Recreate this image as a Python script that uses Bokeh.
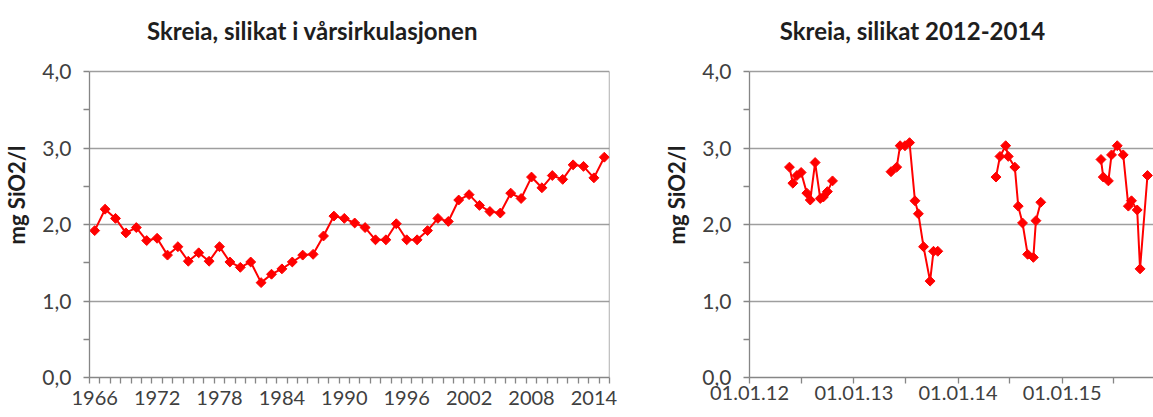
import math
import pandas as pd
from bokeh.plotting import figure
from bokeh.layouts import row
from bokeh.models import FixedTicker, DatetimeTickFormatter, Range1d, Label
from bokeh.embed import file_html
from bokeh.resources import INLINE

# ---------------- data ----------------
years = list(range(1966, 2016))
spring_silicate = [1.92, 2.20, 2.08, 1.89, 1.96, 1.79, 1.82, 1.60, 1.71, 1.52,
                   1.63, 1.52, 1.71, 1.51, 1.44, 1.51, 1.24, 1.35, 1.42, 1.51,
                   1.60, 1.61, 1.85, 2.11, 2.08, 2.02, 1.96, 1.80, 1.80, 2.01,
                   1.80, 1.80, 1.92, 2.08, 2.04, 2.32, 2.39, 2.25, 2.17, 2.15,
                   2.41, 2.34, 2.62, 2.48, 2.64, 2.59, 2.78, 2.76, 2.61, 2.88]
year_tick_labels = ["1966", "1972", "1978", "1984", "1990", "1996", "2002", "2008", "2014"]

sample_dates = [
    "2012-05-20", "2012-06-01", "2012-06-15", "2012-06-30", "2012-07-20", "2012-08-01",
    "2012-08-18", "2012-09-05", "2012-09-16", "2012-09-30", "2012-10-18",
    "2013-05-11", "2013-05-31", "2013-06-12", "2013-06-29", "2013-07-15", "2013-08-03",
    "2013-08-15", "2013-09-02", "2013-09-25", "2013-10-07", "2013-10-22",
    "2014-05-14", "2014-05-28", "2014-06-17", "2014-06-26", "2014-07-19", "2014-07-31",
    "2014-08-15", "2014-09-02", "2014-09-22", "2014-10-01", "2014-10-18",
    "2015-05-17", "2015-05-25", "2015-06-12", "2015-06-23", "2015-07-13", "2015-08-03",
    "2015-08-21", "2015-09-01", "2015-09-21", "2015-10-01", "2015-10-27",
]
sample_silicate = [
    2.75, 2.54, 2.64, 2.68, 2.41, 2.32, 2.81, 2.34, 2.36, 2.43, 2.57,
    2.69, 2.75, 3.03, 3.03, 3.07, 2.31, 2.14, 1.71, 1.26, 1.65, 1.65,
    2.62, 2.89, 3.03, 2.89, 2.75, 2.24, 2.02, 1.61, 1.57, 2.05, 2.29,
    2.85, 2.62, 2.57, 2.91, 3.03, 2.91, 2.24, 2.31, 2.19, 1.42, 2.64,
]
date_tick_dates = ["2012-01-01", "2013-01-01", "2014-01-01", "2015-01-01"]
date_tick_labels = ["01.01.12", "01.01.13", "01.01.14", "01.01.15"]
date_minor_dates = ["2012-07-01", "2013-07-01", "2014-07-01", "2015-07-01"]

y_tick_values = [0, 1, 2, 3, 4]
y_tick_labels = ["0,0", "1,0", "2,0", "3,0", "4,0"]
y_minor_values = [0.5, 1.5, 2.5, 3.5]

title_left = "Skreia, silikat i vårsirkulasjonen"
title_right = "Skreia, silikat 2012-2014"
y_label = "mg SiO2/l"

# ---------------- layout / style ----------------
FONT = "Lato"
RED = "#ff0000"
AXIS = "#868686"
GRID = "#9e9e9e"
TICK_TXT = "#404040"
DARK = "#1e1e1e"

PX_PER_UNIT = 76.5          # vertical scale (px per mg/l)
FRAME_TOP = 12              # frame extends above 4,0 to host the titles
PLOT_TOP = 71               # where 4,0 sits
FRAME_BOTTOM = 377
FIG_H = 417
Y_TOP = y_tick_values[-1] + (PLOT_TOP - FRAME_TOP) / PX_PER_UNIT
TITLE_Y = (FRAME_BOTTOM - 30) / PX_PER_UNIT


def to_ms(s):
    return int(pd.Timestamp(s).value // 10**6)


def style_common(p):
    p.background_fill_color = "white"
    p.border_fill_color = "white"
    p.outline_line_color = None
    p.xgrid.visible = False
    p.ygrid.grid_line_color = GRID
    p.ygrid.grid_line_width = 1.3
    for ax in (p.xaxis[0], p.yaxis[0]):
        ax.axis_line_color = AXIS
        ax.axis_line_width = 1.3
        ax.major_tick_line_color = AXIS
        ax.minor_tick_line_color = AXIS
        ax.major_tick_line_width = 1.3
        ax.minor_tick_line_width = 1.3
        ax.major_tick_in = 0
        ax.minor_tick_in = 0
        ax.major_label_text_font = FONT
        ax.major_label_text_color = TICK_TXT
    p.yaxis[0].major_label_text_font_size = "21px"
    p.xaxis[0].major_label_text_font_size = "20px"
    yax = p.yaxis[0]
    yax.bounds = (y_tick_values[0], y_tick_values[-1])
    yax.ticker = FixedTicker(ticks=y_tick_values, minor_ticks=y_minor_values)
    yax.major_label_overrides = dict(zip(y_tick_values, y_tick_labels))
    yax.major_tick_out = 6
    yax.minor_tick_out = 6
    yax.major_label_standoff = 12
    yax.axis_label = y_label
    yax.axis_label_text_font = FONT
    yax.axis_label_text_font_size = "22px"
    yax.axis_label_text_font_style = "bold"
    yax.axis_label_text_color = DARK
    yax.axis_label_standoff = 9


def add_title(p, x, text):
    p.add_layout(Label(x=x, y=TITLE_Y, text=text, text_align="center",
                       text_baseline="middle", text_font=FONT, text_font_size="24px",
                       text_font_style="bold", text_color=DARK))


# ---------------- left chart ----------------
frame_w1 = 520
x1_start, x1_end = years[0] - 0.5, years[-1] + 0.5
p1 = figure(frame_width=frame_w1, frame_height=FRAME_BOTTOM - FRAME_TOP,
            min_border_left=88, min_border_right=20, min_border_top=FRAME_TOP,
            min_border_bottom=FIG_H - FRAME_BOTTOM,
            x_range=Range1d(x1_start, x1_end), y_range=Range1d(0, Y_TOP),
            output_backend="svg", toolbar_location=None)
style_common(p1)
label_years = [int(s) for s in year_tick_labels]
p1.xaxis[0].ticker = FixedTicker(ticks=label_years,
                                 minor_ticks=[y - 0.5 for y in years] + [x1_end])
p1.xaxis[0].major_label_overrides = dict(zip(label_years, year_tick_labels))
p1.xaxis[0].major_tick_out = 0
p1.xaxis[0].minor_tick_out = 6
p1.xaxis[0].major_label_standoff = 7
# right border of the plot area
p1.segment(x0=[x1_end], y0=[y_tick_values[0]], x1=[x1_end], y1=[y_tick_values[-1]],
           line_color=AXIS, line_width=1.3)

p1.line(years, spring_silicate, line_color=RED, line_width=2)
p1.scatter(years, spring_silicate, marker="square", angle=math.pi / 4, size=7,
           fill_color=RED, line_color=RED, line_width=1)
add_title(p1, x1_start + (311 - 88) / (frame_w1 / (x1_end - x1_start)), title_left)

# ---------------- right chart ----------------
x0 = to_ms("2012-01-01")
ms_year = 365.25 * 86400000
frame_w2 = 405
px_per_year = 104.2
p2 = figure(frame_width=frame_w2, frame_height=FRAME_BOTTOM - FRAME_TOP, x_axis_type="datetime",
            min_border_left=120, min_border_right=0, min_border_top=FRAME_TOP,
            min_border_bottom=FIG_H - FRAME_BOTTOM,
            x_range=Range1d(x0, x0 + frame_w2 / px_per_year * ms_year), y_range=Range1d(0, Y_TOP),
            output_backend="svg", toolbar_location=None)
style_common(p2)
major_ms = [to_ms(d) for d in date_tick_dates]
p2.xaxis[0].ticker = FixedTicker(ticks=major_ms, minor_ticks=[to_ms(d) for d in date_minor_dates])
fmt = "%d.%m.%y"
p2.xaxis[0].formatter = DatetimeTickFormatter(
    microseconds=fmt, milliseconds=fmt, seconds=fmt, minsec=fmt, minutes=fmt,
    hourmin=fmt, hours=fmt, days=fmt, months=fmt, years=fmt)
p2.xaxis[0].major_label_overrides = dict(zip(major_ms, date_tick_labels))
p2.xaxis[0].major_tick_out = 6
p2.xaxis[0].minor_tick_out = 6
p2.xaxis[0].major_label_standoff = 2

dts = pd.to_datetime(sample_dates)
df = pd.DataFrame({"date": dts, "val": sample_silicate})
for yr, g in df.groupby(df["date"].dt.year):
    p2.line(g["date"], g["val"], line_color=RED, line_width=2)
p2.scatter(df["date"], df["val"], marker="square", angle=math.pi / 4, size=7,
           fill_color=RED, line_color=RED, line_width=1)
add_title(p2, x0 + (911 - 748) / px_per_year * ms_year, title_right)

layout = row(p1, p2)
open("out.html", "w").write(file_html(layout, INLINE))
